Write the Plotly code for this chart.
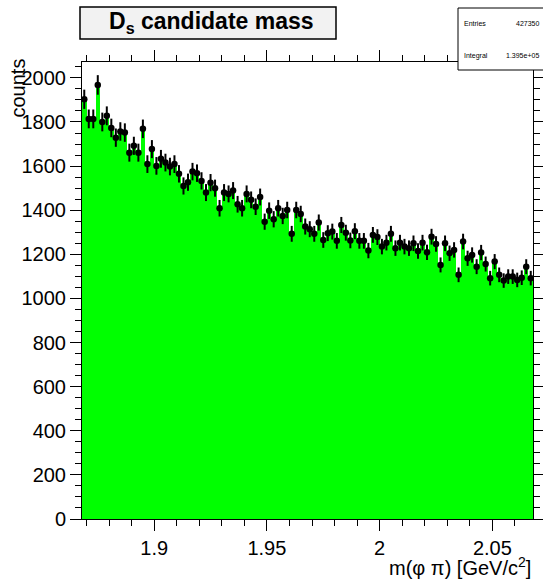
import numpy as np
import plotly.graph_objects as go

# Histogram definition
x_min = 1.868
x_max = 2.068
n_bins = 100

counts = [
    1903, 1814, 1814, 1968, 1800, 1828, 1773, 1729, 1757, 1752,
    1661, 1692, 1661, 1769, 1609, 1677, 1601, 1633, 1616, 1598,
    1609, 1565, 1510, 1527, 1575, 1568, 1533, 1480, 1525, 1500,
    1409, 1480, 1474, 1489, 1427, 1409, 1474, 1447, 1416, 1460,
    1348, 1398, 1359, 1409, 1374, 1401, 1293, 1401, 1383, 1326,
    1314, 1293, 1344, 1265, 1296, 1303, 1261, 1333, 1298, 1263,
    1305, 1261, 1261, 1217, 1288, 1278, 1235, 1253, 1293, 1228,
    1253, 1235, 1228, 1250, 1215, 1253, 1209, 1280, 1247, 1152,
    1250, 1205, 1220, 1107, 1258, 1182, 1197, 1144, 1208, 1156,
    1092, 1167, 1107, 1081, 1099, 1099, 1084, 1094, 1144, 1092,
]

x_tickvals = [1.9, 1.95, 2.0, 2.05]
x_ticktext = ["1.9", "1.95", "2", "2.05"]
y_tickvals = [0, 200, 400, 600, 800, 1000, 1200, 1400, 1600, 1800, 2000]

title_text = "<b>D<sub>s</sub> candidate mass</b>"
x_title = "m(\u03c6 \u03c0) [GeV/c<sup>2</sup>]"
y_title = "counts"
stats_entries = "427350"
stats_integral = "1.395e+05"

edges = np.linspace(x_min, x_max, n_bins + 1)
centers = 0.5 * (edges[:-1] + edges[1:])
bw = edges[1] - edges[0]

W, H = 543, 579
L, R, T, B = 82, 10, 62, 60
pw = W - L - R
ph = H - T - B

def px(xp):
    return (xp - L) / pw

def py(yp):
    return (H - B - yp) / ph

FONT = "Liberation Sans, Arial, Helvetica, sans-serif"

fig = go.Figure()
fig.add_trace(go.Bar(
    x=centers, y=counts, width=bw,
    marker=dict(color="#00ff00", line=dict(width=0)),
    hoverinfo="skip", showlegend=False,
))
fig.add_trace(go.Scatter(
    x=centers, y=counts, mode="markers",
    marker=dict(color="black", size=6.5, symbol="circle"),
    error_y=dict(type="sqrt", color="black", thickness=2, width=0),
    showlegend=False,
))

fig.update_layout(
    width=W, height=H,
    margin=dict(l=L, r=R, t=T, b=B, autoexpand=False),
    paper_bgcolor="white", plot_bgcolor="white",
    bargap=0,
    font=dict(family=FONT, size=20, color="black"),
    xaxis=dict(
        range=[x_min, x_max], tickmode="array", tickvals=x_tickvals, ticktext=x_ticktext,
        ticks="outside", ticklen=11, tickwidth=1, tickcolor="black",
        minor=dict(dtick=0.01, tick0=1.87, ticks="outside", ticklen=6, tickcolor="black", showgrid=False),
        showline=True, linecolor="black", linewidth=1, mirror="allticks",
        showgrid=False, zeroline=False, automargin=False,
        tickfont=dict(size=20),
    ),
    yaxis=dict(
        range=[0, 2072], tickmode="array", tickvals=y_tickvals,
        ticks="outside", ticklen=11, tickwidth=1, tickcolor="black",
        minor=dict(dtick=50, tick0=0, ticks="outside", ticklen=6, tickcolor="black", showgrid=False),
        showline=True, linecolor="black", linewidth=1, mirror="allticks",
        showgrid=False, zeroline=False, automargin=False,
        tickfont=dict(size=20),
    ),
    shapes=[
        dict(type="rect", xref="paper", yref="paper",
             x0=px(80), x1=px(336), y0=py(39), y1=py(7),
             fillcolor="#f2f2f2", line=dict(color="black", width=1.5), layer="above"),
        dict(type="rect", xref="paper", yref="paper",
             x0=px(458), x1=px(545), y0=py(70), y1=py(8),
             fillcolor="white", line=dict(color="black", width=1), layer="above"),
    ],
    annotations=[
        dict(text=title_text, xref="paper", yref="paper", x=px(211), y=py(23),
             xanchor="center", yanchor="middle", showarrow=False,
             font=dict(size=23, family=FONT)),
        dict(text="Entries", xref="paper", yref="paper", x=px(462), y=py(24),
             xanchor="left", yanchor="middle", showarrow=False, font=dict(size=7)),
        dict(text=stats_entries, xref="paper", yref="paper", x=px(541), y=py(24),
             xanchor="right", yanchor="middle", showarrow=False, font=dict(size=7)),
        dict(text="Integral", xref="paper", yref="paper", x=px(462), y=py(56),
             xanchor="left", yanchor="middle", showarrow=False, font=dict(size=7)),
        dict(text=stats_integral, xref="paper", yref="paper", x=px(541), y=py(56),
             xanchor="right", yanchor="middle", showarrow=False, font=dict(size=7)),
        dict(text=x_title, xref="paper", yref="paper", x=1, y=py(566),
             xanchor="right", yanchor="middle", showarrow=False, font=dict(size=20)),
        dict(text=y_title, xref="paper", yref="paper", x=px(18), y=py(57),
             xanchor="center", yanchor="top", textangle=-90, showarrow=False,
             font=dict(size=20)),
    ],
)

fig.write_html(
    "out.html",
    config={"displayModeBar": False},
    post_script="document.body.style.margin='0';document.body.style.overflow='hidden';",
)
